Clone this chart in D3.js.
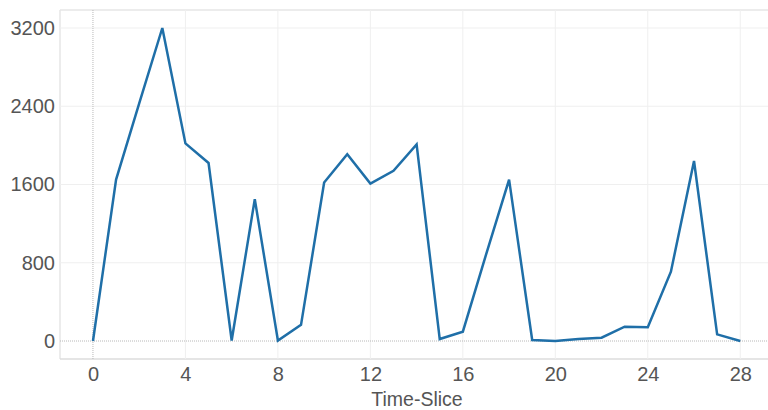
<!DOCTYPE html>
<html><head><meta charset="utf-8">
<script src="https://cdn.jsdelivr.net/npm/d3@7/dist/d3.min.js"></script>
<style>body{margin:0;background:#fff;}svg{display:block;}</style>
</head><body>
<svg id="chart" width="768" height="410"></svg>
<script>
const timeSlices = d3.range(0, 29);
const values = [0, 1650, 2430, 3200, 2020, 1820, 5, 1450, 5, 165, 1620, 1910, 1610, 1740, 2010, 20, 95, 880, 1650, 10, 0, 20, 34, 146, 140, 709, 1840, 68, 0];
const xTicks = [0, 4, 8, 12, 16, 20, 24, 28];
const yTicks = [0, 800, 1600, 2400, 3200];
const xTitle = "Time-Slice";

const svg = d3.select("#chart");
const pL = 60, pR = 768, pT = 10, pB = 359;
const x = d3.scaleLinear().domain([-1.426, 29.2]).range([pL, pR]);
const y = d3.scaleLinear().domain([-184, 3384]).range([pB, pT]);

const font = "'Liberation Sans', Arial, sans-serif";
const grid = svg.append("g");
grid.append("line").attr("x1", pL).attr("x2", pR).attr("y1", pT).attr("y2", pT).attr("stroke", "#e6e6e6").attr("stroke-width", 1.5);
grid.append("line").attr("x1", pL).attr("x2", pL).attr("y1", pT).attr("y2", pB).attr("stroke", "#e6e6e6").attr("stroke-width", 1.5);
grid.append("line").attr("x1", pL).attr("x2", pR).attr("y1", pB).attr("y2", pB).attr("stroke", "#dcdcdc").attr("stroke-width", 1.5);

grid.selectAll(".gy").data(yTicks.filter(d => d !== 0)).join("line")
  .attr("x1", pL).attr("x2", pR).attr("y1", d => y(d)).attr("y2", d => y(d))
  .attr("stroke", "#efefef").attr("stroke-width", 1);
grid.selectAll(".gx").data(xTicks.filter(d => d !== 0)).join("line")
  .attr("x1", d => x(d)).attr("x2", d => x(d)).attr("y1", pT).attr("y2", pB)
  .attr("stroke", "#efefef").attr("stroke-width", 1);
grid.append("line").attr("x1", pL).attr("x2", pR).attr("y1", y(0)).attr("y2", y(0))
  .attr("stroke", "#b8b8b8").attr("stroke-width", 1).attr("stroke-dasharray", "1,1");
grid.append("line").attr("x1", x(0)).attr("x2", x(0)).attr("y1", pT).attr("y2", pB)
  .attr("stroke", "#b8b8b8").attr("stroke-width", 1).attr("stroke-dasharray", "1,1");

const yAxis = svg.append("g").attr("transform", `translate(${pL},0)`)
  .call(d3.axisLeft(y).tickValues(yTicks).tickFormat(d3.format("d")).tickSize(0).tickPadding(5));
yAxis.select(".domain").remove();
yAxis.selectAll("text").attr("fill", "#555").style("font-family", font).style("font-size", "20px");

const xAxis = svg.append("g").attr("transform", `translate(0,${pB})`)
  .call(d3.axisBottom(x).tickValues(xTicks).tickFormat(d3.format("d")).tickSize(0).tickPadding(8));
xAxis.select(".domain").remove();
xAxis.selectAll("text").attr("fill", "#555").style("font-family", font).style("font-size", "20px");

svg.append("text").attr("x", 417).attr("y", 406).attr("text-anchor", "middle")
  .attr("fill", "#555").style("font-family", font).style("font-size", "19.5px").text(xTitle);

const line = d3.line().x((d, i) => x(timeSlices[i])).y(d => y(d));
svg.append("path").datum(values).attr("d", line)
  .attr("fill", "none").attr("stroke", "#1f6fa8").attr("stroke-width", 2.5).attr("stroke-linejoin", "miter");
</script>
</body></html>
